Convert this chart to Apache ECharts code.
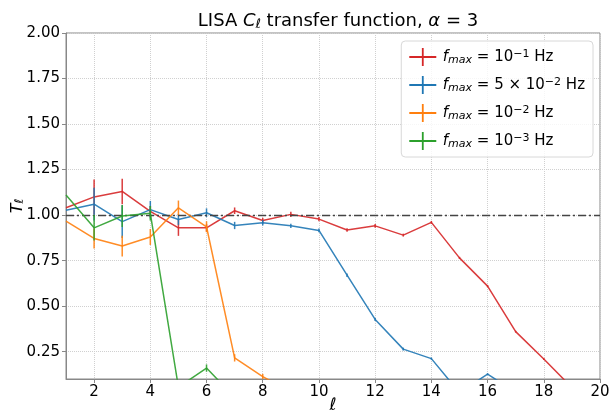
<!DOCTYPE html>
<html>
<head>
<meta charset="utf-8">
<script src="https://cdn.jsdelivr.net/npm/echarts@6/dist/echarts.min.js"></script>
<style>
html, body { margin: 0; padding: 0; background: #fff; }
#chart { width: 610px; height: 411px; }
</style>
</head>
<body>
<div id="chart"></div>
<script>
// multipoles
const ells = [1, 2, 3, 4, 5, 6, 7, 8, 9, 10, 11, 12, 13, 14, 15, 16, 17, 18, 19, 20];
const xTicks = [2, 4, 6, 8, 10, 12, 14, 16, 18, 20];
const yTicks = [0.25, 0.5, 0.75, 1.0, 1.25, 1.5, 1.75, 2.0];

// T_ell for each f_max
const tRed    = [1.04, 1.10, 1.13, 1.02, 0.93, 0.93, 1.024, 0.97, 1.004, 0.978, 0.918, 0.941, 0.89, 0.96, 0.765, 0.61, 0.36, 0.21, 0.053, 0.02];
const tBlue   = [1.027, 1.06, 0.964, 1.03, 0.976, 1.013, 0.943, 0.958, 0.941, 0.916, 0.67, 0.427, 0.264, 0.212, 0.025, 0.127, 0.027, 0.02, 0.01, 0.01];
const tOrange = [0.967, 0.872, 0.83, 0.88, 1.04, 0.936, 0.216, 0.113, 0.03, 0.02, 0.02, 0.01, 0.01, 0.01, 0.01, 0.01, 0.01, 0.01, 0.01, 0.01];
const tGreen  = [1.11, 0.93, 0.995, 1.01, 0.055, 0.16, 0.0, 0.02, 0.01, 0.01, 0.01, 0.01, 0.01, 0.01, 0.01, 0.01, 0.01, 0.01, 0.01, 0.01];

// error bar half-lengths
const eRed    = [0, 0.095, 0.07, 0.03, 0.044, 0.02, 0.018, 0.015, 0.015, 0.012, 0.01, 0.01, 0.008, 0.008, 0.006, 0.006, 0.005, 0.005, 0.004, 0.004];
const eBlue   = [0, 0.09, 0.09, 0.048, 0.03, 0.024, 0.02, 0.015, 0.012, 0.01, 0.01, 0.008, 0.008, 0.006, 0.006, 0.005, 0.005, 0.004, 0.004, 0.004];
const eOrange = [0, 0.055, 0.057, 0.044, 0.04, 0.03, 0.02, 0.015, 0.012, 0.01, 0.01, 0.008, 0.008, 0.006, 0.006, 0.005, 0.005, 0.004, 0.004, 0.004];
const eGreen  = [0, 0.07, 0.06, 0.04, 0.03, 0.02, 0.015, 0.012, 0.01, 0.01, 0.01, 0.008, 0.008, 0.006, 0.006, 0.005, 0.005, 0.004, 0.004, 0.004];

const names = ['fmax=1e-1', 'fmax=5e-2', 'fmax=1e-2', 'fmax=1e-3'];
const labels = {
  'fmax=1e-1': '{it|f}{sub|max} = 10{sup|\u22121} Hz',
  'fmax=5e-2': '{it|f}{sub|max} = 5 \u00d7 10{sup|\u22122} Hz',
  'fmax=1e-2': '{it|f}{sub|max} = 10{sup|\u22122} Hz',
  'fmax=1e-3': '{it|f}{sub|max} = 10{sup|\u22123} Hz'
};
const colors = ['#d62728', '#1f77b4', '#ff7f0e', '#2ca02c'];
const values = [tRed, tBlue, tOrange, tGreen];
const errors = [eRed, eBlue, eOrange, eGreen];

const font = 'DejaVu Sans';
const chart = echarts.init(document.getElementById('chart'));

const series = [];
names.forEach((name, i) => {
  series.push({
    name: name,
    type: 'line',
    data: ells.map((l, j) => [l, values[i][j]]),
    showSymbol: false,
    symbol: 'none',
    lineStyle: { color: colors[i], width: 1.5, opacity: 0.9 },
    itemStyle: { color: colors[i] },
    z: 3 + i,
    markLine: i === 0 ? {
      silent: true,
      symbol: ['none', 'none'],
      label: { show: false },
      lineStyle: { color: '#444', type: [8, 3, 2, 3], width: 1.3 },
      data: [{ yAxis: 1 }]
    } : undefined
  });
  series.push({
    name: name,
    type: 'custom',
    clip: true,
    z: 3 + i,
    data: ells.map((l, j) => [l, values[i][j], errors[i][j]]),
    encode: { x: 0, y: 1 },
    renderItem: (params, api) => {
      const e = api.value(2);
      if (!e) return null;
      const x = api.value(0), y = api.value(1);
      const a = api.coord([x, y + e]);
      const b = api.coord([x, y - e]);
      return {
        type: 'line',
        shape: { x1: a[0], y1: a[1], x2: b[0], y2: b[1] },
        style: { stroke: colors[i], lineWidth: 1.5, opacity: 0.9 }
      };
    }
  });
});

chart.setOption({
  animation: false,
  backgroundColor: '#fff',
  color: colors,
  title: {
    text: 'LISA {it|C}{sub|\u2113} transfer function, {it|\u03b1} = 3',
    left: 333,
    textAlign: 'center',
    top: 7,
    textStyle: {
      fontFamily: font, fontSize: 18, fontWeight: 'normal', color: '#000',
      rich: {
        it: { fontFamily: font, fontSize: 18, fontStyle: 'italic', color: '#000' },
        sub: { fontFamily: font, fontSize: 13, fontStyle: 'italic', color: '#000', verticalAlign: 'bottom', padding: [6, 0, 0, 0] }
      }
    }
  },
  legend: {
    data: names.map(n => ({ name: n, icon: 'path://M0,9H30V11H0Z M14,0H16V20H14Z' })),
    orient: 'vertical',
    right: 17,
    top: 41,
    itemWidth: 30,
    itemHeight: 18,
    itemGap: 10,
    padding: [7, 8, 7, 8],
    backgroundColor: 'rgba(255,255,255,0.8)',
    borderColor: '#d8d8d8',
    borderWidth: 1,
    borderRadius: 4,
    formatter: n => labels[n],
    textStyle: {
      fontFamily: font, fontSize: 15, color: '#000',
      rich: {
        it: { fontFamily: font, fontSize: 15, fontStyle: 'italic', color: '#000' },
        sub: { fontFamily: font, fontSize: 11, fontStyle: 'italic', color: '#000', verticalAlign: 'bottom', padding: [6, 0, 0, 0] },
        sup: { fontFamily: font, fontSize: 11, color: '#000', verticalAlign: 'top', padding: [0, 0, 6, 0] }
      }
    }
  },
  grid: {
    left: 66, right: 10, top: 33, bottom: 32,
    outerBoundsMode: 'none',
    show: true, borderColor: '#888', borderWidth: 1
  },
  xAxis: {
    type: 'value',
    min: 1, max: 20,
    name: '\u2113',
    nameLocation: 'middle',
    nameGap: 18,
    nameMoveOverlap: false,
    nameTextStyle: { fontFamily: font, fontSize: 17, fontStyle: 'italic', color: '#000', verticalAlign: 'top' },
    axisLine: { show: true, lineStyle: { color: '#888' } },
    axisTick: { show: true, customValues: xTicks, length: 4, lineStyle: { color: '#888' } },
    axisLabel: { customValues: xTicks, fontFamily: font, fontSize: 15, color: '#000', margin: 6 },
    splitLine: { show: true, lineStyle: { color: '#d0d0d0', type: 'dotted', width: 1 } }
  },
  yAxis: {
    type: 'value',
    min: 0.1, max: 2.0,
    name: '{it|T}{sub|\u2113}',
    nameLocation: 'middle',
    nameGap: 40,
    nameMoveOverlap: false,
    nameTextStyle: {
      fontFamily: font, fontSize: 16, color: '#000',
      rich: {
        it: { fontFamily: font, fontSize: 16, fontStyle: 'italic', color: '#000' },
        sub: { fontFamily: font, fontSize: 12, fontStyle: 'italic', color: '#000', verticalAlign: 'bottom', padding: [5, 0, 0, 0] }
      }
    },
    axisLine: { show: true, lineStyle: { color: '#888' } },
    axisTick: { show: true, customValues: yTicks, length: 4, lineStyle: { color: '#888' } },
    axisLabel: {
      customValues: yTicks, fontFamily: font, fontSize: 15, color: '#000', margin: 6,
      formatter: v => v.toFixed(2)
    },
    splitLine: { show: true, lineStyle: { color: '#d0d0d0', type: 'dotted', width: 1 } }
  },
  series: series
});
</script>
</body>
</html>
